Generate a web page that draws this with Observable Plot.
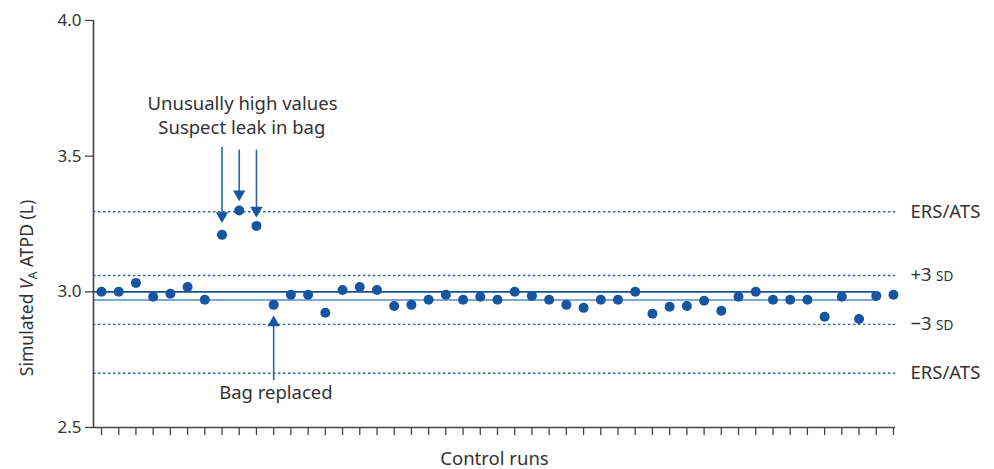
<!DOCTYPE html>
<html>
<head>
<meta charset="utf-8">
<script src="https://cdn.jsdelivr.net/npm/d3@7"></script>
<script src="https://cdn.jsdelivr.net/npm/@observablehq/plot@0.6"></script>
<style>
  body { margin: 0; background: #fff; }
  #chart svg { display: block; }
</style>
</head>
<body>
<div id="chart"></div>
<script>
// Simulated VA ATPD (L) for each control run
const values = [
  3.00, 3.00, 3.033, 2.982, 2.993, 3.018, 2.971, 3.21, 3.30, 3.243,
  2.952, 2.989, 2.989, 2.923, 3.007, 3.018, 3.007, 2.948, 2.952, 2.971,
  2.989, 2.971, 2.982, 2.971, 3.00, 2.985, 2.971, 2.952, 2.941, 2.971,
  2.971, 3.00, 2.919, 2.945, 2.948, 2.967, 2.93, 2.982, 3.00, 2.971,
  2.971, 2.971, 2.908, 2.982, 2.90, 2.985, 2.989
];
const runs = values.map((_, i) => i + 1);

// Reference levels
const target = 3.0;
const mean = 2.97;
const plus3SD = 3.06;
const minus3SD = 2.88;
const ersUpper = 3.295;
const ersLower = 2.70;
const lastLineRun = 46;

const yTicks = [2.5, 3.0, 3.5, 4.0];

// Annotations
const leakRuns = [8, 9, 10];
const leakArrowTop = [3.532, 3.522, 3.522];
const leakArrowHead = [3.28, 3.36, 3.30];
const bagRun = 11;
const bagArrowBottom = 2.672;
const bagArrowHead = 2.886;

const data = runs.map((r, i) => ({run: r, value: values[i]}));
const leak = leakRuns.map((r, i) => ({run: r, top: leakArrowTop[i], head: leakArrowHead[i]}));

const xDomain = [0.535, 47.117];
const font = "'Noto Sans', 'Open Sans', sans-serif";
const textColor = "#333";
const blue = "#1656a0";

const dotted = [
  {v: ersUpper, label: "ERS/ATS"},
  {v: plus3SD, label: "+3", sd: true},
  {v: minus3SD, label: "\u22123", sd: true},
  {v: ersLower, label: "ERS/ATS"}
];

const plot = Plot.plot({
  width: 994,
  height: 469,
  marginLeft: 93,
  marginRight: 99,
  marginTop: 20,
  marginBottom: 42,
  style: {fontFamily: font, color: textColor, background: "#fff"},
  x: {domain: xDomain},
  y: {domain: [2.5, 4.0]},
  marks: [
    // dotted reference lines
    Plot.ruleY(dotted, {y: "v", x1: xDomain[0], x2: xDomain[1], stroke: "#2463ad", strokeWidth: 1.4, strokeDasharray: "2.4,2.6"}),
    // mean and target lines
    Plot.ruleY([mean], {x1: xDomain[0], x2: lastLineRun, stroke: "#5a8ac6", strokeWidth: 1.4}),
    Plot.ruleY([target], {x1: xDomain[0], x2: lastLineRun, stroke: "#1d4f91", strokeWidth: 1.6}),
    // axes
    Plot.axisY({ticks: yTicks, tickFormat: d3.format(".1f"), tickSize: 8, tickPadding: 4, fontSize: 17, label: null, stroke: "#444", strokeWidth: 1.3, color: textColor}),
    Plot.axisX({ticks: runs, tickFormat: () => "", tickSize: 8, label: null, stroke: "#444", strokeWidth: 1.3}),
    Plot.ruleX([xDomain[0]], {stroke: "#444", strokeWidth: 1.6}),
    Plot.ruleY([2.5], {x1: xDomain[0], x2: xDomain[1], stroke: "#444", strokeWidth: 1.6}),
    // data points
    Plot.dot(data, {x: "run", y: "value", r: 5, fill: blue, stroke: "none"}),
    // leak arrows
    Plot.ruleX(leak, {x: "run", y1: "top", y2: "head", stroke: "#2a63aa", strokeWidth: 1.6}),
    Plot.dot(leak, {x: "run", y: "head", symbol: "triangle", r: 4.6, rotate: 180, fill: blue, stroke: "none"}),
    // bag replaced arrow
    Plot.ruleX([bagRun], {y1: bagArrowBottom, y2: bagArrowHead, stroke: "#2a63aa", strokeWidth: 1.6}),
    Plot.dot([bagRun], {x: d => d, y: bagArrowHead, symbol: "triangle", r: 4.6, fill: blue, stroke: "none"}),
    // annotation text
    Plot.text(["Unusually high values"], {x: 9.19, y: 3.693, text: d => d, fontSize: 18.5, fill: textColor}),
    Plot.text(["Suspect leak in bag"], {x: 9.15, y: 3.604, text: d => d, fontSize: 18.5, fill: textColor}),
    Plot.text(["Bag replaced"], {x: 11.13, y: 2.626, text: d => d, fontSize: 18.5, fill: textColor}),
    // right-hand labels
    Plot.text(dotted, {x: xDomain[1], y: "v", text: "label", dx: 15, textAnchor: "start", fontSize: 18.5, fill: textColor}),
    Plot.text(dotted.filter(d => d.sd), {x: xDomain[1], y: "v", text: () => "SD", dx: 40.5, dy: 1.5, textAnchor: "start", fontSize: 13.5, fill: textColor}),
    // x label
    Plot.text(["Control runs"], {x: (xDomain[0] + xDomain[1]) / 2, y: 2.5, text: d => d, dy: 32, fontSize: 18.5, fill: textColor})
  ]
});

// y-axis title with italic V and subscript A
const svg = d3.select(plot);
const t = svg.append("text")
  .attr("transform", "translate(33,288) rotate(-90)")
  .attr("text-anchor", "middle")
  .attr("fill", textColor)
  .attr("font-family", font)
  .attr("font-size", 17.5);
t.append("tspan").text("Simulated ");
t.append("tspan").attr("font-style", "italic").text("V");
t.append("tspan").attr("font-size", 12).attr("dy", 4).text("A");
t.append("tspan").attr("dy", -4).text(" ATPD (L)");

document.getElementById("chart").appendChild(plot);
</script>
</body>
</html>
